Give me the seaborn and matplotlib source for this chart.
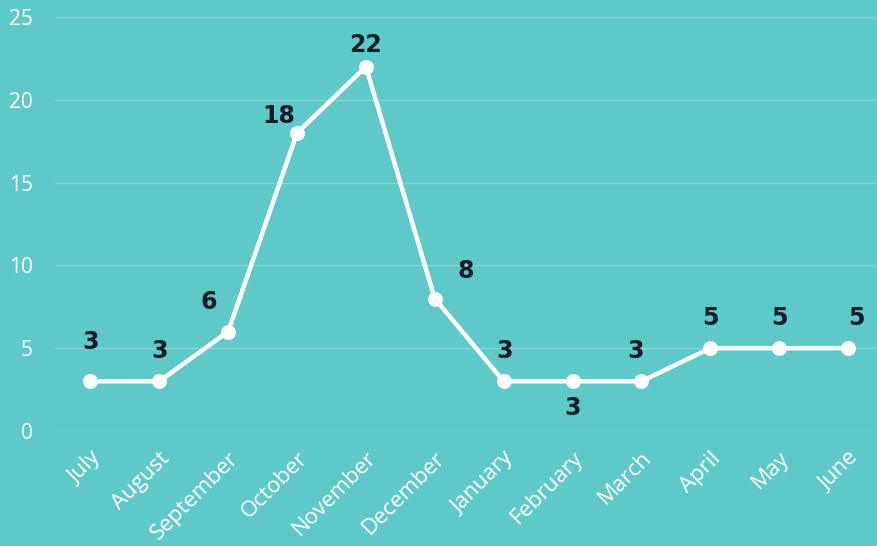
import numpy as np
import pandas as pd
import matplotlib.pyplot as plt
import seaborn as sns

# Data
months = ['July', 'August', 'September', 'October', 'November', 'December',
          'January', 'February', 'March', 'April', 'May', 'June']
counts = [3, 3, 6, 18, 22, 8, 3, 3, 3, 5, 5, 5]
yticks = [0, 5, 10, 15, 20, 25]

# label offsets (points) for each value label
label_offsets = [(0, 28), (0, 22), (-14, 21), (-13, 12), (0, 16), (22, 20),
                 (1, 22), (0, -19), (-4, 22), (0, 22), (0, 22), (6, 22)]

bg = '#5fc8c8'
sns.set_style('white')
plt.rcParams['font.family'] = ['Open Sans', 'DejaVu Sans']

df = pd.DataFrame({'month': months, 'count': counts})

fig = plt.figure(figsize=(8.77, 5.46), dpi=100, facecolor=bg)
ax = fig.add_axes([0.063, 0.2106, 0.937, 0.7894])
ax.set_facecolor(bg)

sns.lineplot(data=df, x='month', y='count', sort=False, ax=ax,
             color='white', linewidth=3.2, marker='o', markersize=10,
             markeredgecolor='white', zorder=3)

for i, (m, v) in enumerate(zip(months, counts)):
    ax.annotate(str(v), (i, v), xytext=label_offsets[i], textcoords='offset points',
                ha='center', va='center', fontsize=17, fontweight='heavy',
                color='#161b28', family=['DejaVu Sans'])

ax.set_xlim(-0.51, 11.42)
ax.set_ylim(0, 26.03)
ax.set_yticks(yticks)
ax.yaxis.grid(True, color='#86d6d6', linewidth=1)
ax.set_axisbelow(True)
for s in ax.spines.values():
    s.set_visible(False)
ax.tick_params(axis='both', length=0, colors='white', labelsize=15)
ax.tick_params(axis='y', pad=16)
ax.tick_params(axis='x', pad=12, labelsize=16)
ax.set_xticks(range(len(months)))
ax.set_xticklabels(months, rotation=45, ha='right', rotation_mode='anchor')
ax.set_xlabel('')
ax.set_ylabel('')

fig.savefig('out.png', dpi=100, facecolor=bg)
